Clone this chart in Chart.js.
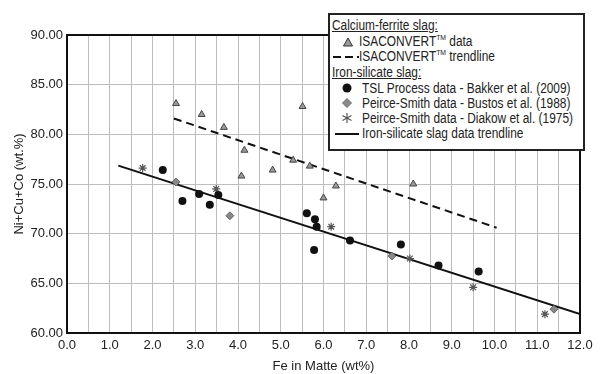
<!DOCTYPE html>
<html>
<head>
<meta charset="utf-8">
<script src="https://cdn.jsdelivr.net/npm/chart.js@4.4.1/dist/chart.umd.min.js"></script>
<style>
  html, body { margin: 0; padding: 0; background: #fff; }
  #wrap { position: relative; width: 600px; height: 374px; font-family: 'Liberation Sans', Arial, sans-serif; color: #222; }
  #chart { position: absolute; left: 0; top: 0; }
  #legend { position: absolute; left: 328px; top: 13px; width: 253px; height: 134px; border: 2px solid #222; background: #fff; font-size: 14px; }
  #legend .row { position: absolute; white-space: nowrap; line-height: 15px; transform: scaleX(0.85); transform-origin: 0 0; }
  #legend .head { text-decoration: underline; }
  #legend sup { font-size: 8px; vertical-align: 6px; line-height: 0; }
  #legend svg { position: absolute; }
</style>
</head>
<body>
<div id="wrap">
  <canvas id="chart" width="600" height="374"></canvas>
  <div id="legend">
    <div class="row head" style="left:2px; top:3px;">Calcium-ferrite slag:</div>
    <svg style="left:12px; top:21px;" width="12" height="12"><polygon points="6,2 10.5,10 1.5,10" fill="#9a9a9a" stroke="#333" stroke-width="1"/></svg>
    <div class="row" style="left:29px; top:19px;">ISACONVERT<sup>TM</sup> data</div>
    <svg style="left:3px; top:36px;" width="26" height="12"><line x1="0" y1="6" x2="26" y2="6" stroke="#111" stroke-width="2" stroke-dasharray="8,4"/></svg>
    <div class="row" style="left:29px; top:34px;">ISACONVERT<sup>TM</sup> trendline</div>
    <div class="row head" style="left:2px; top:50px;">Iron-silicate slag:</div>
    <svg style="left:11px; top:67px;" width="12" height="12"><circle cx="6" cy="6" r="4.5" fill="#111"/></svg>
    <div class="row" style="left:32px; top:66px;">TSL Process data - Bakker et al. (2009)</div>
    <svg style="left:11px; top:82px;" width="12" height="12"><polygon points="6,1.5 10.5,6 6,10.5 1.5,6" fill="#8a8a8a" stroke="#555" stroke-width="0.8"/></svg>
    <div class="row" style="left:32px; top:81px;">Peirce-Smith data - Bustos et al. (1988)</div>
    <svg style="left:11px; top:97px;" width="12" height="12"><g stroke="#555" stroke-width="1.2"><line x1="6" y1="1" x2="6" y2="11"/><line x1="1.5" y1="3.5" x2="10.5" y2="8.5"/><line x1="1.5" y1="8.5" x2="10.5" y2="3.5"/></g></svg>
    <div class="row" style="left:32px; top:96px;">Peirce-Smith data - Diakow et al. (1975)</div>
    <svg style="left:5px; top:113px;" width="26" height="12"><line x1="0" y1="6" x2="24" y2="6" stroke="#111" stroke-width="2"/></svg>
    <div class="row" style="left:32px; top:111px;">Iron-silicate slag data trendline</div>
  </div>
</div>
<script>
// ---------- DATA ----------
// Calcium-ferrite slag (ISACONVERT) points
const isaFe = [2.55, 3.15, 3.67, 4.08, 4.15, 4.81, 5.29, 5.51, 5.68, 6.0, 6.29, 8.1];
const isaNi = [83.1, 82.0, 80.7, 75.8, 78.4, 76.4, 77.4, 82.8, 76.8, 73.6, 74.8, 75.0];

// Iron-silicate slag: TSL process (Bakker 2009)
const tslFe = [2.24, 2.70, 3.09, 3.34, 3.54, 5.61, 5.80, 5.84, 5.78, 6.62, 7.81, 8.69, 9.63];
const tslNi = [76.4, 73.3, 74.0, 72.9, 73.9, 72.05, 71.45, 70.7, 68.35, 69.3, 68.9, 66.8, 66.2];

// Peirce-Smith (Bustos 1988)
const bustosFe = [2.55, 3.81, 7.6, 11.39];
const bustosNi = [75.2, 71.8, 67.75, 62.4];

// Peirce-Smith (Diakow 1975)
const diakowFe = [1.77, 3.49, 6.18, 8.02, 9.5, 11.18];
const diakowNi = [76.6, 74.5, 70.7, 67.5, 64.6, 61.9];

// trendlines (end points)
const isaTrendFe = [2.5, 10.05];
const isaTrendNi = [81.6, 70.6];
const feTrendFe = [1.2, 12.0];
const feTrendNi = [76.85, 61.9];

// axes
const xMin = 0, xMax = 12, xStep = 0.5;
const yMin = 60, yMax = 90, yStep = 5;
const xTitle = 'Fe in Matte (wt%)';
const yTitle = 'Ni+Cu+Co (wt.%)';

function pts(xs, ys) { return xs.map((x, i) => ({ x: x, y: ys[i] })); }

Chart.defaults.font.family = "'Liberation Sans', Arial, sans-serif";
Chart.defaults.color = '#222';

// box around plot area
const frame = {
  id: 'frame',
  afterDraw(chart) {
    const a = chart.chartArea, c = chart.ctx;
    c.save();
    c.strokeStyle = '#111';
    c.lineWidth = 2;
    c.strokeRect(a.left, a.top, a.right - a.left, a.bottom - a.top);
    c.restore();
  }
};

new Chart(document.getElementById('chart'), {
  type: 'scatter',
  data: {
    datasets: [
      { label: 'Iron-silicate slag data trendline', data: pts(feTrendFe, feTrendNi), showLine: true,
        borderColor: '#111', borderWidth: 2, pointRadius: 0, order: 5 },
      { label: 'ISACONVERT trendline', data: pts(isaTrendFe, isaTrendNi), showLine: true,
        borderColor: '#111', borderWidth: 2, borderDash: [8, 5], pointRadius: 0, order: 5 },
      { label: 'ISACONVERT data', data: pts(isaFe, isaNi), pointStyle: 'triangle', pointRadius: 4,
        backgroundColor: '#9a9a9a', borderColor: '#444', borderWidth: 1, order: 1 },
      { label: 'TSL Process data - Bakker et al. (2009)', data: pts(tslFe, tslNi), pointStyle: 'circle', pointRadius: 4,
        backgroundColor: '#111', borderColor: '#111', borderWidth: 0, order: 1 },
      { label: 'Peirce-Smith data - Bustos et al. (1988)', data: pts(bustosFe, bustosNi), pointStyle: 'rectRot', pointRadius: 4,
        backgroundColor: '#888', borderColor: '#555', borderWidth: 0.8, order: 1 },
      { label: 'Peirce-Smith data - Diakow et al. (1975)', data: pts(diakowFe, diakowNi), pointStyle: 'star', pointRadius: 4,
        backgroundColor: '#555', borderColor: '#555', borderWidth: 1.2, order: 1 }
    ]
  },
  options: {
    responsive: false,
    animation: false,
    layout: { padding: { left: 0, right: 20, top: 35, bottom: 0 } },
    plugins: { legend: { display: false }, tooltip: { enabled: false } },
    scales: {
      x: {
        type: 'linear', min: xMin, max: xMax,
        afterFit(s) { s.height = 41; },
        border: { display: false },
        grid: { color: '#bdbdbd', lineWidth: 1, drawTicks: false },
        ticks: {
          stepSize: xStep, autoSkip: false, maxRotation: 0, padding: 5,
          font: { size: 13 }, color: '#222',
          callback: v => (Math.abs(v - Math.round(v)) < 1e-6 ? v.toFixed(1) : '')
        },
        title: { display: true, text: xTitle, font: { size: 13 }, color: '#222', padding: { top: 0, bottom: 0 } }
      },
      y: {
        type: 'linear', min: yMin, max: yMax,
        afterFit(s) { s.width = 67; },
        border: { display: false },
        grid: { color: '#bdbdbd', lineWidth: 1, drawTicks: false },
        ticks: {
          stepSize: yStep, padding: 4, font: { size: 13 }, color: '#222',
          callback: v => v.toFixed(2)
        },
        title: { display: true, text: yTitle, font: { size: 13 }, color: '#222', padding: { top: 12, bottom: 0 } }
      }
    }
  },
  plugins: [frame]
});
</script>
</body>
</html>
